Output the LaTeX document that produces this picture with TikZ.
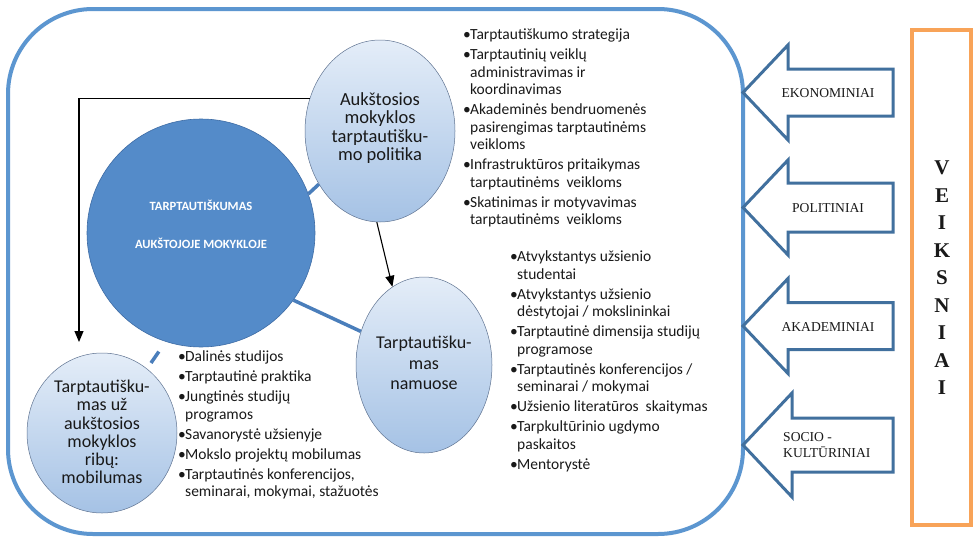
\documentclass[tikz,border=0pt]{standalone}
\usepackage{fontspec}
\setmainfont{Carlito}
\newfontfamily\tnr{Liberation Serif}
\usetikzlibrary{shapes.geometric,arrows.meta}
\definecolor{frameblue}{RGB}{92,150,208}
\definecolor{mainblue}{RGB}{84,139,201}
\definecolor{mainborder}{RGB}{62,108,165}
\definecolor{elltop}{RGB}{228,237,248}
\definecolor{ellbot}{RGB}{165,194,229}
\definecolor{ellborder}{RGB}{95,115,145}
\definecolor{connblue}{RGB}{74,126,187}
\definecolor{arrowblue}{RGB}{65,112,158}
\definecolor{orangec}{RGB}{248,163,88}
\definecolor{textdark}{RGB}{25,25,25}
\newcommand\bu{\makebox[7pt][l]{•}}
\newcommand\ii{\hspace*{7pt}}
\tikzset{
  frame/.style={draw=frameblue, line width=4pt, rounded corners=85pt},
  maincirc/.style={circle, fill=mainblue, draw=mainborder, line width=0.6pt, minimum size=228pt, inner sep=0pt},
  ell/.style={ellipse, draw=ellborder, line width=0.5pt, top color=elltop, bottom color=ellbot, inner sep=0pt},
  elltext/.style={align=center, text=textdark, inner sep=0pt},
  conn/.style={draw=connblue, line width=3.5pt},
  blk/.style={draw=black, line width=1.1pt, -{Triangle[length=11pt,width=9pt]}},
  listtxt/.style={align=left, anchor=north west, inner sep=0pt, font=\fontsize{15.5}{17.5}\selectfont, text=textdark},
  blockarr/.style={draw=arrowblue, line width=3pt, fill=white, line join=miter},
  arrtxt/.style={font=\tnr\fontsize{13.6}{16}\selectfont, inner sep=0pt, text=textdark},
  veik/.style={draw=orangec, line width=3.5pt},
}
\newcommand\blkarrow[4]{%
  \draw[blockarr] (743,#1) -- (#4,{#1-#2}) -- (#4,{#1-#3}) -- (893,{#1-#3}) -- (893,{#1+#3}) -- (#4,{#1+#3}) -- (#4,{#1+#2}) -- cycle;}
\begin{document}
\begin{tikzpicture}[x=1pt,y=-1pt]
\useasboundingbox (0,0) rectangle (973,538);
\fill[white] (0,0) rectangle (973,538);
% frame
\draw[frame] (8,9) rectangle (743,534);
% main circle
\node[maincirc] (main) at (201,233) {};
\node[font=\bfseries\fontsize{12.6}{13}\selectfont, text=white, align=center, inner sep=0pt] (maint) at (201,224) {TARPTAUTIŠKUMAS\\[25pt]AUKŠTOJOJE MOKYKLOJE};
% ellipses
\node[ell, minimum width=150pt, minimum height=182pt] (pol) at (380,131) {};
\node[elltext, font=\fontsize{18.5}{18.5}\selectfont] (polt) at (380,128) {Aukštosios\\mokyklos\\tarptautišku-\\mo politika};
\node[ell, minimum width=136pt, minimum height=176pt] (nam) at (424,365) {};
\node[elltext, font=\fontsize{18}{20.5}\selectfont] (namt) at (424,363) {Tarptautišku-\\mas\\namuose};
\node[ell, minimum width=150pt, minimum height=160pt] (mob) at (102,433) {};
\node[elltext, font=\fontsize{18}{18.3}\selectfont] (mobt) at (102,432) {Tarptautišku-\\mas už\\aukštosios\\mokyklos\\ribų:\\mobilumas};
% connectors
\draw[conn] (main.20) -- (pol.221);
\draw[conn] (main.-36) -- (nam.152);
\draw[conn, shorten <=12pt, shorten >=7pt] (main.-108) -- (mob.55);
\coordinate (c1) at (79,342);
\draw[blk] (pol.155) -| (c1);
\draw[blk] (pol.-92) -- (nam.112);
% lists
\node[listtxt] (l1) at (463,29) {\bu Tarptautiškumo strategija\\[2.5pt]
\bu Tarptautinių veiklų\\ \ii administravimas ir\\ \ii koordinavimas\\[2.5pt]
\bu Akademinės bendruomenės\\ \ii pasirengimas tarptautinėms\\ \ii veikloms\\[2.5pt]
\bu Infrastruktūros pritaikymas\\ \ii tarptautinėms\ \ veikloms\\[2.5pt]
\bu Skatinimas ir motyvavimas\\ \ii tarptautinėms\ \ veikloms};
\node[listtxt] (l2) at (510,251) {\bu Atvykstantys užsienio\\ \ii studentai\\[2.5pt]
\bu Atvykstantys užsienio\\ \ii dėstytojai / mokslininkai\\[2.5pt]
\bu Tarptautinė dimensija studijų\\ \ii programose\\[2.5pt]
\bu Tarptautinės konferencijos /\\ \ii seminarai / mokymai\\[2.5pt]
\bu Užsienio literatūros\ \ skaitymas\\[2.5pt]
\bu Tarpkultūrinio ugdymo\\ \ii paskaitos\\[2.5pt]
\bu Mentorystė};
\node[listtxt] (l3) at (178,351) {\bu Dalinės studijos\\[2.5pt]
\bu Tarptautinė praktika\\[2.5pt]
\bu Jungtinės studijų\\ \ii programos\\[2.5pt]
\bu Savanorystė užsienyje\\[2.5pt]
\bu Mokslo projektų mobilumas\\[2.5pt]
\bu Tarptautinės konferencijos,\\ \ii seminarai, mokymai, stažuotės};
% block arrows
\blkarrow{92.5}{47.5}{23.5}{788}
\blkarrow{207.5}{47.5}{24.5}{788}
\blkarrow{326}{47.5}{23.5}{788}
\blkarrow{445}{52}{27}{792}
\node[arrtxt] (ek) at (828,93) {EKONOMINIAI};
\node[arrtxt] (po) at (828,208) {POLITINIAI};
\node[arrtxt] (ak) at (828,327) {AKADEMINIAI};
\node[arrtxt, align=left, anchor=west] (so) at (783,445) {SOCIO -\\KULTŪRINIAI};
% veiksniai
\draw[veik] (912,30) rectangle (971,525);
\node[font=\tnr\bfseries\fontsize{21}{27.5}\selectfont, align=center, inner sep=0pt, text=textdark] (vk) at (942,278) {V\\E\\I\\K\\S\\N\\I\\A\\I};
\end{tikzpicture}
\end{document}
